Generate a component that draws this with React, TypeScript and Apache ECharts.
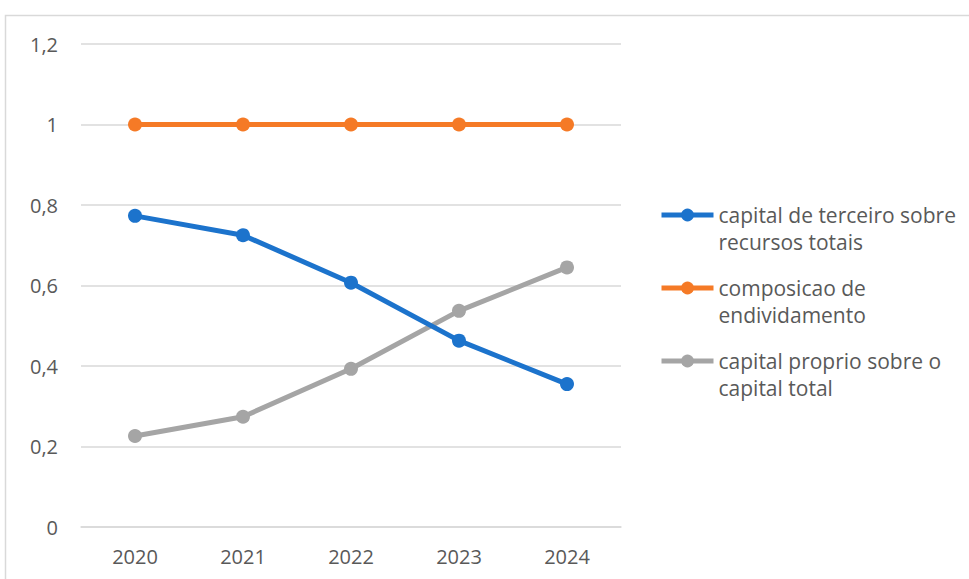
import React, { useEffect, useRef } from "react";
import * as echarts from "echarts";

const categories = ["2020", "2021", "2022", "2023", "2024"];
const seriesNames = [
  "capital de terceiro sobre recursos totais",
  "composicao de endividamento",
  "capital proprio sobre o capital total",
];
const legendLabels = [
  "capital de terceiro sobre\nrecursos totais",
  "composicao de\nendividamento",
  "capital proprio sobre o\ncapital total",
];
const terceiroValues = [0.773, 0.725, 0.607, 0.463, 0.355];
const composicaoValues = [1, 1, 1, 1, 1];
const proprioValues = [0.226, 0.274, 0.393, 0.537, 0.645];
const seriesValues = [terceiroValues, composicaoValues, proprioValues];
const colors = ["#1c73cc", "#f57a26", "#a5a5a5"];
const legendCenters = [215, 288, 361];

const FONT = "'Open Sans', 'Noto Sans', sans-serif";
const TEXT_COLOR = "#595959";
const AXIS_FS = 20;
const LEGEND_FS = 21;
const LEGEND_LH = 27;

export default function App() {
  const ref = useRef<HTMLDivElement>(null);
  useEffect(() => {
    if (!ref.current) return;
    const chart = echarts.init(ref.current, null, { renderer: "svg" });
    chart.setOption({
      animation: false,
      backgroundColor: "#ffffff",
      graphic: [
        {
          type: "rect",
          shape: { x: 5.5, y: 15.5, width: 1100, height: 700 },
          style: { fill: "none", stroke: "#d9d9d9", lineWidth: 1.5 },
          silent: true,
          z: -10,
        },
      ],
      grid: { left: 81, right: 348, top: 44, bottom: 52, containLabel: false },
      legend: seriesNames.map((name, i) => ({
        data: [name],
        orient: "vertical",
        left: 659,
        top: legendCenters[i] - LEGEND_LH * 1.5,
        itemWidth: 52,
        itemHeight: 16,
        itemGap: 0,
        padding: 0,
        selectedMode: false,
        lineStyle: { width: 5 },
        formatter: () => "\n" + legendLabels[i],
        textStyle: {
          fontFamily: FONT,
          fontSize: LEGEND_FS,
          color: TEXT_COLOR,
          lineHeight: LEGEND_LH,
        },
      })),
      xAxis: {
        type: "category",
        data: categories,
        boundaryGap: true,
        axisLine: { show: true, lineStyle: { color: "#d9d9d9", width: 1.5 } },
        axisTick: { show: false },
        axisLabel: {
          margin: 19,
          fontFamily: FONT,
          fontSize: AXIS_FS,
          color: TEXT_COLOR,
        },
      },
      yAxis: {
        type: "value",
        min: 0,
        max: 1.2,
        interval: 0.2,
        axisLine: { show: false },
        axisTick: { show: false },
        splitLine: { lineStyle: { color: "#d9d9d9", width: 1.5 } },
        axisLabel: {
          margin: 23,
          fontFamily: FONT,
          fontSize: AXIS_FS,
          color: TEXT_COLOR,
          formatter: (v: number) => String(Math.round(v * 10) / 10).replace(".", ","),
        },
      },
      series: seriesNames.map((name, i) => ({
        name,
        type: "line",
        data: seriesValues[i],
        symbol: "circle",
        symbolSize: 14,
        lineStyle: { color: colors[i], width: 5 },
        itemStyle: { color: colors[i] },
        z: i === 2 ? 2 : 3,
      })),
    });
    return () => chart.dispose();
  }, []);
  return (
    <div
      ref={ref}
      style={{ position: "fixed", left: 0, top: 0, width: 969, height: 579 }}
    />
  );
}
